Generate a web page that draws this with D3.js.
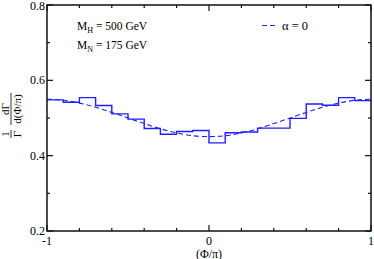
<!DOCTYPE html>
<html>
<head>
<meta charset="utf-8">
<script src="https://cdn.jsdelivr.net/npm/d3@7"></script>
<style>
  body { margin: 0; background: #fff; }
  svg text { font-family: "Liberation Serif", "DejaVu Serif", serif; fill: #000; }
</style>
</head>
<body>
<div id="chart"></div>
<script>
const width = 374
const height = 259
const margins = { top: 5, right: 3, bottom: 28, left: 47 }

// histogram: 20 bins over (Phi/pi) from -1 to 1
var binEdges = [-1, -0.9, -0.8, -0.7, -0.6, -0.5, -0.4, -0.3, -0.2, -0.1, 0, 0.1, 0.2, 0.3, 0.4, 0.5, 0.6, 0.7, 0.8, 0.9, 1]
var binValues = [0.548, 0.542, 0.554, 0.533, 0.511, 0.497, 0.472, 0.457, 0.464, 0.467,
                 0.434, 0.461, 0.463, 0.473, 0.473, 0.499, 0.537, 0.534, 0.554, 0.546]

// dashed alpha = 0 curve
var curveX = [-1, -0.9, -0.8, -0.7, -0.6, -0.5, -0.4, -0.3, -0.2, -0.1, 0, 0.1, 0.2, 0.3, 0.4, 0.5, 0.6, 0.7, 0.8, 0.9, 1]
var curveY = [0.550, 0.548, 0.540, 0.529, 0.515, 0.500, 0.485, 0.471, 0.460, 0.452, 0.450,
              0.452, 0.460, 0.471, 0.485, 0.500, 0.515, 0.529, 0.540, 0.548, 0.550]

var xMajor = [-1, 0, 1]
var xMinor = [-0.8, -0.6, -0.4, -0.2, 0.2, 0.4, 0.6, 0.8]
var yMajor = [0.2, 0.4, 0.6, 0.8]
var yMinor = [0.3, 0.5, 0.7]

const svg = d3.select("#chart")
    .append("svg")
    .attr("width", width)
    .attr("height", height)

const x = d3.scaleLinear().domain([-1, 1]).range([margins.left, width - margins.right])
const y = d3.scaleLinear().domain([0.2, 0.8]).range([height - margins.bottom, margins.top])

const x0 = x.range()[0], x1 = x.range()[1]
const y0 = y.range()[0], y1 = y.range()[1]

// ticks pointing inward on all four sides
function tickLines(vals, len) {
    vals.forEach(v => {
        svg.append("line").attr("x1", x(v)).attr("x2", x(v)).attr("y1", y0).attr("y2", y0 - len)
        svg.append("line").attr("x1", x(v)).attr("x2", x(v)).attr("y1", y1).attr("y2", y1 + len)
    })
}
function yTickLines(vals, len) {
    vals.forEach(v => {
        svg.append("line").attr("x1", x0).attr("x2", x0 + len).attr("y1", y(v)).attr("y2", y(v))
        svg.append("line").attr("x1", x1).attr("x2", x1 - len).attr("y1", y(v)).attr("y2", y(v))
    })
}
tickLines(xMajor, 6)
tickLines(xMinor, 3)
yTickLines(yMajor, 6)
yTickLines(yMinor, 3)
svg.selectAll("line").attr("stroke", "#111").attr("stroke-width", 1.2)

// histogram
const stepData = binValues.map((v, i) => [binEdges[i], v])
stepData.push([binEdges[binEdges.length - 1], binValues[binValues.length - 1]])
svg.append("path")
    .datum(stepData)
    .attr("fill", "none")
    .attr("stroke", "#1f1fff")
    .attr("stroke-width", 1.4)
    .attr("d", d3.line().x(d => x(d[0])).y(d => y(d[1])).curve(d3.curveStepAfter))

// dashed curve
svg.append("path")
    .datum(curveX.map((v, i) => [v, curveY[i]]))
    .attr("fill", "none")
    .attr("stroke", "#1f1fff")
    .attr("stroke-width", 1.1)
    .attr("stroke-dasharray", "5,3")
    .attr("d", d3.line().x(d => x(d[0])).y(d => y(d[1])).curve(d3.curveBasis))

// frame
svg.append("rect")
    .attr("x", x0).attr("y", y1)
    .attr("width", x1 - x0).attr("height", y0 - y1)
    .attr("fill", "none")
    .attr("stroke", "#111")
    .attr("stroke-width", 1.5)

// tick labels
svg.selectAll(".ylab")
    .data(yMajor)
    .enter()
    .append("text")
    .attr("x", x0 - 2)
    .attr("y", d => Math.max(y(d) + 4, 9.5))
    .attr("text-anchor", "end")
    .style("font-size", "12px")
    .text(d => d3.format(".1f")(d))
svg.selectAll(".xlab")
    .data(xMajor)
    .enter()
    .append("text")
    .attr("x", d => x(d))
    .attr("y", y0 + 14)
    .attr("text-anchor", "middle")
    .style("font-size", "12px")
    .text(d => d)

svg.append("text")
    .attr("x", x(0))
    .attr("y", y0 + 26.5)
    .attr("text-anchor", "middle")
    .style("font-size", "12px")
    .text("(Φ/π)")

// y label: 1/Γ dΓ/d(Φ/π), rotated
const yl = svg.append("g").attr("transform", `translate(12, ${(y0 + y1) / 2}) rotate(-90)`)
yl.append("text").attr("x", -16).attr("y", -3).attr("text-anchor", "middle").style("font-size", "11px").text("1")
yl.append("text").attr("x", -16).attr("y", 8.5).attr("text-anchor", "middle").style("font-size", "11px").text("Γ")
yl.append("line").attr("x1", -20).attr("x2", -12).attr("y1", -1).attr("y2", -1).attr("stroke", "#000").attr("stroke-width", 0.8)
yl.append("text").attr("x", 9).attr("y", -3).attr("text-anchor", "middle").style("font-size", "11px").text("dΓ")
yl.append("text").attr("x", 9).attr("y", 8.5).attr("text-anchor", "middle").style("font-size", "11px").text("d(Φ/π)")
yl.append("line").attr("x1", -7).attr("x2", 25).attr("y1", -1).attr("y2", -1).attr("stroke", "#000").attr("stroke-width", 0.8)

// annotations
const ann = svg.append("text").attr("x", 77).attr("y", 30).style("font-size", "11.5px")
ann.append("tspan").text("M")
ann.append("tspan").attr("dy", 3).style("font-size", "8px").text("H")
ann.append("tspan").attr("dy", -3).text(" = 500 GeV")
const ann2 = svg.append("text").attr("x", 77).attr("y", 49).style("font-size", "11.5px")
ann2.append("tspan").text("M")
ann2.append("tspan").attr("dy", 3).style("font-size", "8px").text("N")
ann2.append("tspan").attr("dy", -3).text(" = 175 GeV")

// legend
svg.append("line")
    .attr("x1", 262).attr("x2", 276).attr("y1", 25.5).attr("y2", 25.5)
    .attr("stroke", "#1f1fff").attr("stroke-width", 1.1).attr("stroke-dasharray", "5,3")
svg.append("text").attr("x", 282).attr("y", 29.5).style("font-size", "12.5px").text("α = 0")
</script>
</body>
</html>
